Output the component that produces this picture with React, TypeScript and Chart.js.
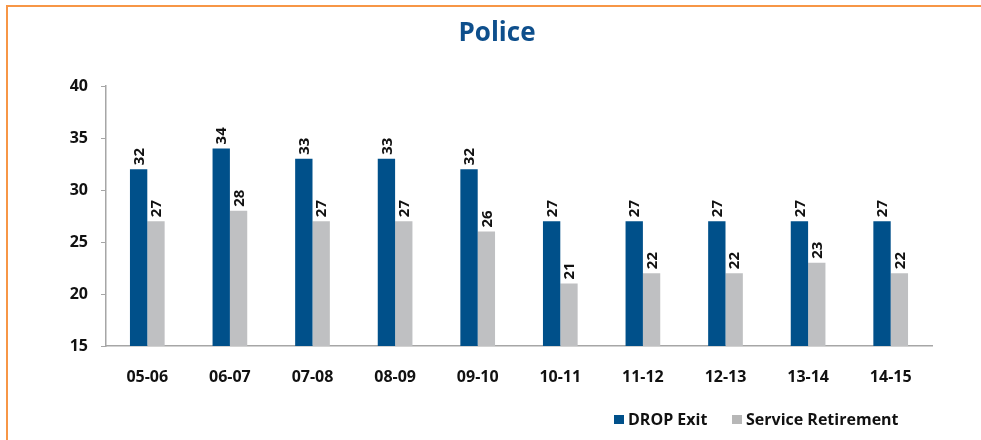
import React, { useEffect, useRef } from "react";
import { Chart, registerables } from "chart.js";

Chart.register(...registerables);

const categories = ["05-06", "06-07", "07-08", "08-09", "09-10", "10-11", "11-12", "12-13", "13-14", "14-15"];
const dropExit = [32, 34, 33, 33, 32, 27, 27, 27, 27, 27];
const serviceRetirement = [27, 28, 27, 27, 26, 21, 22, 22, 23, 22];
const seriesNames = ["DROP Exit", "Service Retirement"];
const titleText = "Police";

const BLUE = "#00508A";
const GREY = "#BFC0C2";
const FONT = "'Open Sans', 'DejaVu Sans', sans-serif";

const decorPlugin = {
  id: "decor",
  afterDraw(chart: any) {
    const ctx = chart.ctx;
    ctx.save();
    // frame
    ctx.strokeStyle = "#F79646";
    ctx.lineWidth = 2;
    ctx.beginPath();
    ctx.moveTo(7, 440);
    ctx.lineTo(7, 6);
    ctx.lineTo(981, 6);
    ctx.stroke();
    // title
    ctx.fillStyle = "#0E4F8C";
    ctx.font = `bold 26px ${FONT}`;
    ctx.textAlign = "center";
    ctx.textBaseline = "middle";
    ctx.fillText(titleText, 497, 34);
    // data labels
    ctx.font = `bold 15px ${FONT}`;
    ctx.fillStyle = "#111";
    chart.data.datasets.forEach((ds: any, di: number) => {
      const meta = chart.getDatasetMeta(di);
      meta.data.forEach((bar: any, i: number) => {
        ctx.save();
        ctx.translate(bar.x, bar.y - 4);
        ctx.rotate(-Math.PI / 2);
        ctx.textAlign = "left";
        ctx.textBaseline = "middle";
        ctx.fillText(String(ds.data[i]), 0, 1);
        ctx.restore();
      });
    });
    // legend
    ctx.font = `bold 16px ${FONT}`;
    ctx.textAlign = "left";
    ctx.textBaseline = "middle";
    const items = [
      { x: 614, color: BLUE, text: seriesNames[0] },
      { x: 732, color: "#B7B7B7", text: seriesNames[1] },
    ];
    items.forEach((it) => {
      ctx.fillStyle = it.color;
      ctx.fillRect(it.x, 415, 10, 9);
      ctx.fillStyle = "#111";
      ctx.fillText(it.text, it.x + 14, 420);
    });
    ctx.restore();
  },
};

export default function App() {
  const ref = useRef<HTMLCanvasElement>(null);
  useEffect(() => {
    if (!ref.current) return;
    const chart = new Chart(ref.current, {
      type: "bar",
      data: {
        labels: categories,
        datasets: [
          { label: seriesNames[0], data: dropExit, backgroundColor: BLUE, categoryPercentage: 0.42, barPercentage: 1 },
          { label: seriesNames[1], data: serviceRetirement, backgroundColor: GREY, categoryPercentage: 0.42, barPercentage: 1 },
        ],
      },
      options: {
        animation: false,
        responsive: false,
        maintainAspectRatio: false,
        layout: { padding: { left: 0, top: 86, right: 49, bottom: 0 } },
        plugins: { legend: { display: false }, title: { display: false }, tooltip: { enabled: false } },
        scales: {
          x: {
            grid: { display: false, drawTicks: false, tickLength: 0 },
            border: { display: true, color: "#A6A6A6", width: 1.5 },
            ticks: { color: "#111", font: { family: FONT, size: 16, weight: "bold" }, padding: 22, maxRotation: 0 },
            afterFit: (s: any) => { s.height = 94; },
          },
          y: {
            min: 15,
            max: 40,
            grid: { display: true, drawOnChartArea: false, drawTicks: true, tickLength: 5, color: "#A6A6A6" },
            border: { display: true, color: "#A6A6A6", width: 1.5 },
            ticks: { stepSize: 5, color: "#111", font: { family: FONT, size: 16, weight: "bold" }, padding: 13 },
            afterFit: (s: any) => { s.width = 106; },
          },
        },
      },
      plugins: [decorPlugin],
    });
    return () => chart.destroy();
  }, []);
  return (
    <div style={{ position: "fixed", left: 0, top: 0, width: 981, height: 440, background: "#fff" }}>
      <canvas ref={ref} width={981} height={440} style={{ display: "block", width: 981, height: 440 }} />
    </div>
  );
}
